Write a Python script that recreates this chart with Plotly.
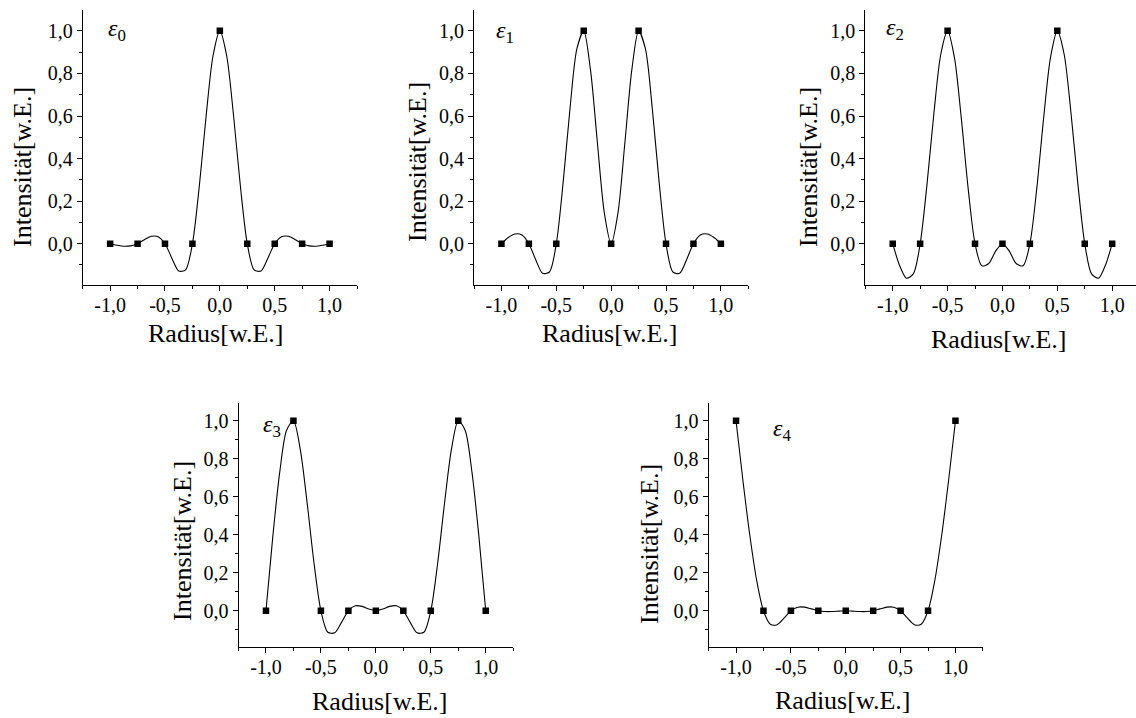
import plotly.graph_objects as go

# ---------------- data ----------------
X_NODES = [-1.0, -0.75, -0.5, -0.25, 0.0, 0.25, 0.5, 0.75, 1.0]
E0_NODES = [0, 0, 0, 0, 1, 0, 0, 0, 0]
E1_NODES = [0, 0, 0, 1, 0, 1, 0, 0, 0]
E2_NODES = [0, 0, 1, 0, 0, 0, 1, 0, 0]
E3_NODES = [0, 1, 0, 0, 0, 0, 0, 1, 0]
E4_NODES = [1, 0, 0, 0, 0, 0, 0, 0, 1]

# smooth curve values
CURVE_X = [-1.0, -0.9375, -0.875, -0.8125, -0.75, -0.6875, -0.625, -0.5625,
           -0.5, -0.4375, -0.375, -0.3125, -0.25, -0.1875, -0.125, -0.0625,
           0.0, 0.0625, 0.125, 0.1875, 0.25, 0.3125, 0.375, 0.4375,
           0.5, 0.5625, 0.625, 0.6875, 0.75, 0.8125, 0.875, 0.9375, 1.0]
E0_CURVE = [0.0, -0.007, -0.012, -0.010, 0.0, 0.019, 0.035, 0.033,
            0.0, -0.068, -0.128, -0.123, 0.0, 0.269, 0.601, 0.882,
            1.0, 0.882, 0.601, 0.269, 0.0, -0.123, -0.128, -0.068,
            0.0, 0.033, 0.035, 0.019, 0.0, -0.010, -0.012, -0.007, 0.0]
E1_CURVE = [0.0, 0.029, 0.046, 0.041, 0.0, -0.075, -0.139, -0.133,
            0.0, 0.288, 0.635, 0.915, 1.0, 0.813, 0.473, 0.146,
            0.0, 0.146, 0.473, 0.813, 1.0, 0.915, 0.635, 0.288,
            0.0, -0.133, -0.139, -0.075, 0.0, 0.041, 0.046, 0.029, 0.0]
E2_CURVE = [0.0, -0.102, -0.162, -0.142, 0.0, 0.280, 0.612, 0.889,
            1.0, 0.874, 0.589, 0.259, 0.0, -0.104, -0.093, -0.035,
            0.0, -0.035, -0.093, -0.104, 0.0, 0.259, 0.589, 0.874,
            1.0, 0.889, 0.612, 0.280, 0.0, -0.142, -0.162, -0.102, 0.0]
E3_CURVE = [0.0, 0.393, 0.728, 0.950, 1.0, 0.848, 0.566, 0.250,
            0.0, -0.113, -0.116, -0.061, 0.0, 0.026, 0.023, 0.009,
            0.0, 0.009, 0.023, 0.026, 0.0, -0.061, -0.116, -0.113,
            0.0, 0.250, 0.566, 0.848, 1.0, 0.950, 0.728, 0.393, 0.0]
E4_CURVE = [1.0, 0.687, 0.400, 0.162, 0.0, -0.071, -0.073, -0.039,
            0.0, 0.019, 0.019, 0.010, 0.0, -0.004, -0.004, -0.002,
            0.0, -0.002, -0.004, -0.004, 0.0, 0.010, 0.019, 0.019,
            0.0, -0.039, -0.073, -0.071, 0.0, 0.162, 0.400, 0.687, 1.0]

LABELS = ["0", "1", "2", "3", "4"]
X_TICKS = [-1.0, -0.5, 0.0, 0.5, 1.0]
X_TICK_TEXT = ["-1,0", "-0,5", "0,0", "0,5", "1,0"]
Y_TICKS = [0.0, 0.2, 0.4, 0.6, 0.8, 1.0]
Y_TICK_TEXT = ["0,0", "0,2", "0,4", "0,6", "0,8", "1,0"]
X_TITLE = "Radius[w.E.]"
Y_TITLE = "Intensität[w.E.]"

NODES = [E0_NODES, E1_NODES, E2_NODES, E3_NODES, E4_NODES]
CURVES = [E0_CURVE, E1_CURVE, E2_CURVE, E3_CURVE, E4_CURVE]

# ---------------- layout (pixels) ----------------
W, H = 1136, 718
FONT = "Liberation Serif"
PANELS = [
    dict(l=82.7, r=357.0, t=10.0, b=285.0, xmax=1.25, ymax=1.098, ymin=-0.194),
    dict(l=474.0, r=748.3, t=10.0, b=285.0, xmax=1.25, ymax=1.098, ymin=-0.194),
    dict(l=865.3, r=1136.0, t=10.0, b=285.0, xmax=1.217, ymax=1.098, ymin=-0.194),
    dict(l=238.5, r=513.2, t=402.7, b=646.7, xmax=1.25, ymax=1.095, ymin=-0.189),
    dict(l=708.6, r=982.9, t=402.7, b=646.7, xmax=1.25, ymax=1.095, ymin=-0.189),
]
Y_TITLE_POS = [(22, 167), (417, 162), (808, 167), (182, 541), (649, 544)]
X_TITLE_POS = [(216, 333), (610, 333), (999, 339), (380, 701), (843, 700)]
EPS_POS = [(106, 30), (494, 32), (884, 29), (261, 426), (771, 430)]

fig = go.Figure()
layout = dict(
    width=W, height=H, autosize=False,
    margin=dict(l=0, r=0, t=0, b=0, pad=0),
    paper_bgcolor="white", plot_bgcolor="white",
    showlegend=False,
    font=dict(family=FONT, size=20, color="black"),
)
annotations = []

for i, p in enumerate(PANELS):
    k = "" if i == 0 else str(i + 1)
    xa, ya = "x" + k, "y" + k
    fig.add_trace(go.Scatter(
        x=CURVE_X, y=CURVES[i], xaxis=xa, yaxis=ya, mode="lines",
        line=dict(color="black", width=1.1, shape="spline", smoothing=0.8),
        hoverinfo="skip"))
    fig.add_trace(go.Scatter(
        x=X_NODES, y=NODES[i], xaxis=xa, yaxis=ya, mode="markers",
        marker=dict(symbol="square", size=6.5, color="black",
                    line=dict(width=0))))
    common = dict(showgrid=False, zeroline=False, showline=True,
                  linecolor="black", linewidth=1, ticks="outside",
                  tickcolor="black", tickwidth=1, ticklen=5,
                  tickfont=dict(family=FONT, size=20, color="black"),
                  tickmode="array", fixedrange=True)
    layout["xaxis" + k] = dict(
        common, anchor=ya,
        domain=[p["l"] / W, p["r"] / W],
        range=[-1.25, p["xmax"]],
        tickvals=X_TICKS, ticktext=X_TICK_TEXT,
        ticklabelstandoff=-3,
        minor=dict(tickmode="linear", tick0=0, dtick=0.25, ticks="outside",
                   ticklen=3, tickcolor="black", tickwidth=1),
    )
    layout["yaxis" + k] = dict(
        common, anchor=xa,
        domain=[1 - p["b"] / H, 1 - p["t"] / H],
        range=[p["ymin"], p["ymax"]],
        tickvals=Y_TICKS, ticktext=Y_TICK_TEXT,
        minor=dict(tickmode="linear", tick0=0, dtick=0.1, ticks="outside",
                   ticklen=3, tickcolor="black", tickwidth=1),
    )
    yx, yy = Y_TITLE_POS[i]
    annotations.append(dict(
        text=Y_TITLE, xref="paper", yref="paper", x=yx / W, y=1 - yy / H,
        xanchor="center", yanchor="middle", textangle=-90, showarrow=False,
        font=dict(family=FONT, size=26, color="black")))
    tx, ty = X_TITLE_POS[i]
    annotations.append(dict(
        text=X_TITLE, xref="paper", yref="paper", x=tx / W, y=1 - ty / H,
        xanchor="center", yanchor="middle", showarrow=False,
        font=dict(family=FONT, size=26, color="black")))
    ex, ey = EPS_POS[i]
    annotations.append(dict(
        text="<i>ε</i><sub>" + LABELS[i] + "</sub>", xref="paper",
        yref="paper", x=ex / W, y=1 - ey / H, xanchor="left",
        yanchor="middle", showarrow=False,
        font=dict(family=FONT, size=24, color="black")))

layout["annotations"] = annotations
fig.update_layout(**layout)

fig.write_html(
    "out.html",
    config={"displayModeBar": False, "staticPlot": True},
    post_script="document.body.style.margin='0';document.body.style.padding='0';document.body.style.overflow='hidden';",
)
